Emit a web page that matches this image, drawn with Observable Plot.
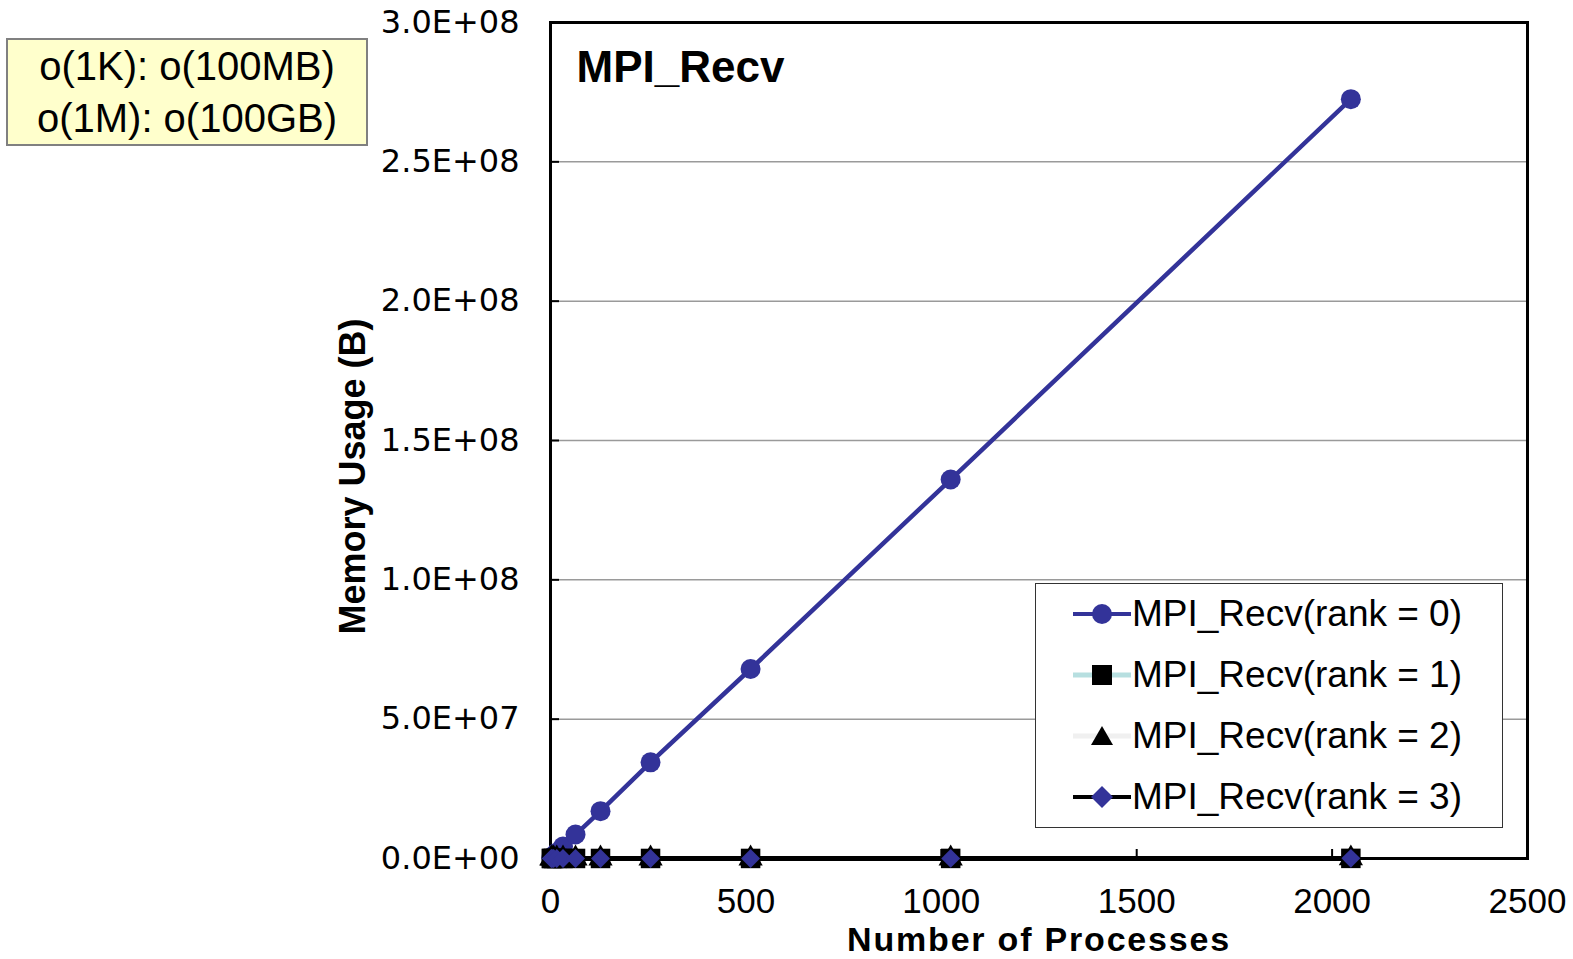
<!DOCTYPE html>
<html><head><meta charset="utf-8">
<script src="https://cdn.jsdelivr.net/npm/d3@7"></script>
<script src="https://cdn.jsdelivr.net/npm/@observablehq/plot@0.6"></script>
<style>
body{margin:0;background:#fff;}
#wrap{position:relative;width:1573px;height:959px;overflow:hidden;background:#fff;}
#chart{position:absolute;left:0;top:0;}
.xtitle text{letter-spacing:1.8px;}
.note{position:absolute;left:6px;top:38px;width:358px;height:104px;background:#ffffcc;border:2px solid #808080;font-family:"Liberation Sans",Arial,sans-serif;font-size:40px;text-align:center;color:#000;}
.note div{position:absolute;left:0;width:358px;height:52px;line-height:52px;}
.legend{position:absolute;left:1035px;top:583px;width:466px;height:243px;background:#fff;border:1.5px solid #333;font-family:"Liberation Sans",Arial,sans-serif;font-size:37px;color:#000;}
.row{position:absolute;left:0;height:60px;width:466px;}
.row svg{position:absolute;left:37px;top:15px;}
.row span{position:absolute;left:96px;top:0;line-height:60px;white-space:nowrap;}
</style>
</head><body>
<div id="wrap">
<div id="chart"></div>
<div class="note" id="note"></div>
<div class="legend" id="legend"></div>
</div>
<script>
// ---- data ----
const procs = [2, 4, 8, 16, 32, 64, 128, 256, 512, 1024, 2048];
const rank0 = [2.7e5, 5.4e5, 1.07e6, 2.1e6, 4.3e6, 8.6e6, 1.7e7, 3.45e7, 6.8e7, 1.36e8, 2.725e8];
const rank1 = [1.2e4, 1.2e4, 1.2e4, 1.3e4, 1.3e4, 1.4e4, 1.5e4, 1.7e4, 2.1e4, 2.9e4, 4.5e4];
const rank2 = [1.2e4, 1.2e4, 1.2e4, 1.3e4, 1.3e4, 1.4e4, 1.5e4, 1.7e4, 2.1e4, 2.9e4, 4.5e4];
const rank3 = [1.2e4, 1.2e4, 1.2e4, 1.3e4, 1.3e4, 1.4e4, 1.5e4, 1.7e4, 2.1e4, 2.9e4, 4.5e4];
const seriesNames = ["MPI_Recv(rank = 0)", "MPI_Recv(rank = 1)", "MPI_Recv(rank = 2)", "MPI_Recv(rank = 3)"];
const xTicks = [0, 500, 1000, 1500, 2000, 2500];
const xTickLabels = ["0", "500", "1000", "1500", "2000", "2500"];
const yTicks = [0, 5e7, 1e8, 1.5e8, 2e8, 2.5e8, 3e8];
const yTickLabels = ["0.0E+00", "5.0E+07", "1.0E+08", "1.5E+08", "2.0E+08", "2.5E+08", "3.0E+08"];
const gridY = [5e7, 1e8, 1.5e8, 2e8, 2.5e8];
const noteLines = ["o(1K): o(100MB)", "o(1M): o(100GB)"];
const chartTitle = "MPI_Recv";
const xTitle = "Number of Processes";
const yTitle = "Memory Usage (B)";

const rows = procs.map((p, i) => ({p, r0: rank0[i], r1: rank1[i], r2: rank2[i], r3: rank3[i]}));
const navy = "#333399";
const teal = "#b7dfe0";
const pale = "#f0f0f0";

const chart = Plot.plot({
  width: 1573, height: 959,
  marginLeft: 550, marginRight: 46, marginTop: 22, marginBottom: 101,
  style: {background: "transparent", fontFamily: "'Liberation Sans', Arial, sans-serif", color: "#000"},
  x: {domain: [0, 2500]},
  y: {domain: [0, 3e8]},
  marks: [
    Plot.ruleY(gridY, {stroke: "#9a9a9a", strokeWidth: 1.5}),
    Plot.tickX(xTicks, {x: d => d, insetTop: 827, stroke: "#000", strokeWidth: 2}),
    Plot.tickY(yTicks, {y: d => d, insetRight: 968, stroke: "#000", strokeWidth: 2}),
    Plot.axisX(xTicks, {anchor: "bottom", tickSize: 0, tickPadding: 30, label: null,
      tickFormat: d => xTickLabels[xTicks.indexOf(d)], fontSize: 35, fontFamily: "'Liberation Sans', Arial, sans-serif"}),
    Plot.axisY(yTicks, {anchor: "left", tickSize: 0, tickPadding: 31, label: null,
      tickFormat: d => yTickLabels[yTicks.indexOf(d)], fontSize: 32, fontFamily: "'DejaVu Sans', sans-serif"}),
    Plot.text([xTitle], {frameAnchor: "bottom", textAnchor: "middle", lineAnchor: "middle", dy: 82, fontSize: 34, fontWeight: "bold", fill: "#000", className: "xtitle"}),
    Plot.text([yTitle], {frameAnchor: "left", textAnchor: "middle", lineAnchor: "middle", rotate: -90, dx: -197, dy: 36, fontSize: 36, fontWeight: "bold", fill: "#000"}),
    Plot.text([chartTitle], {frameAnchor: "top-left", textAnchor: "start", lineAnchor: "middle", dx: 26, dy: 45, fontSize: 44, fontWeight: "bold", fill: "#000"}),
    Plot.frame({stroke: "#000", strokeWidth: 3}),
    Plot.line(rows, {x: "p", y: "r0", stroke: navy, strokeWidth: 4.5}),
    Plot.dot(rows, {x: "p", y: "r0", r: 10, symbol: "circle", fill: navy, stroke: "none"}),
    Plot.line(rows, {x: "p", y: "r1", stroke: teal, strokeWidth: 4}),
    Plot.dot(rows, {x: "p", y: "r1", r: 11, symbol: "square", fill: "#000", stroke: "none"}),
    Plot.line(rows, {x: "p", y: "r2", stroke: pale, strokeWidth: 4}),
    Plot.dot(rows, {x: "p", y: "r2", r: 9, symbol: "triangle", fill: "#000", stroke: "none"}),
    Plot.line(rows, {x: "p", y: "r3", stroke: "#000", strokeWidth: 5}),
    Plot.dot(rows, {x: "p", y: "r3", r: 8.5, symbol: "diamond2", fill: navy, stroke: "none"})
  ]
});
document.getElementById("chart").appendChild(chart);

// ---- note box ----
const note = document.getElementById("note");
noteLines.forEach((t, i) => {
  const d = document.createElement("div");
  d.style.top = (i * 52) + "px";
  d.textContent = t;
  note.appendChild(d);
});

// ---- legend ----
const legendSymbols = [
  `<line x1="0" y1="15" x2="58" y2="15" stroke="${navy}" stroke-width="4"/><circle cx="29" cy="15" r="10" fill="${navy}"/>`,
  `<line x1="0" y1="15" x2="58" y2="15" stroke="${teal}" stroke-width="5"/><rect x="19" y="5" width="20" height="20" fill="#000"/>`,
  `<line x1="0" y1="15" x2="58" y2="15" stroke="${pale}" stroke-width="5"/><polygon points="29,5 40,24 18,24" fill="#000"/>`,
  `<line x1="0" y1="15" x2="58" y2="15" stroke="#000" stroke-width="4"/><polygon points="29,4 40,15 29,26 18,15" fill="${navy}"/>`
];
const legend = document.getElementById("legend");
seriesNames.forEach((name, i) => {
  const row = document.createElement("div");
  row.className = "row";
  row.style.top = (i * 61) + "px";
  row.innerHTML = `<svg width="60" height="30">${legendSymbols[i]}</svg><span>${name}</span>`;
  legend.appendChild(row);
});
</script>
</body></html>
